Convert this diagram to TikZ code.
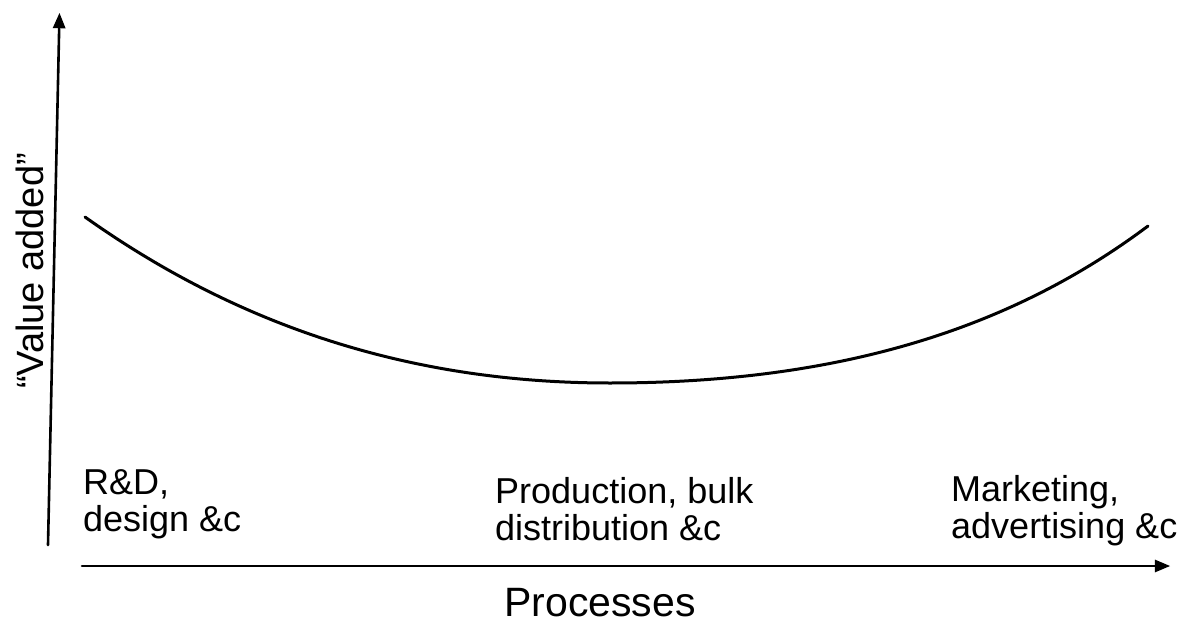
\documentclass[tikz,border=0pt]{standalone}
\usepackage{fontspec}
\setmainfont{Liberation Sans}
\usepackage{pgf,tikz}
\usetikzlibrary{arrows}

\begin{document}
\begin{tikzpicture}[line cap=round,line join=round,>=triangle 45,x=1pt,y=-1pt,
  axis/.style={line width=2.6pt},
  lab/.style={align=left,anchor=base west,inner sep=0pt,font=\fontsize{36}{36.5}\selectfont}]
\useasboundingbox (0,0) rectangle (1184,621);
\coordinate (yfoot) at (48,545);
\coordinate (ytip) at (59.5,13);
\coordinate (xfoot) at (82,566);
\coordinate (xtip) at (1170,566);
\coordinate (left) at (85,217);
\coordinate (low) at (610,383);
\coordinate (right) at (1148,226);
\draw [axis,->] (yfoot) -- (ytip);
\draw [axis,->] (xfoot) -- (xtip);
\draw [line width=3pt] (left) .. controls (230,320) and (400,383) .. (low)
  .. controls (850,383) and (1018,323.5) .. (right);
\node [lab] (rd) at (83,531) {R\&D,\\design \&c};
\node [lab] (prod) at (495,540) {Production, bulk\\distribution \&c};
\node [lab] (mkt) at (951,538) {Marketing,\\advertising \&c};
\node [anchor=base,inner sep=0pt,font=\fontsize{41}{41}\selectfont] (xname) at (600,616) {Processes};
\node [anchor=base,inner sep=0pt,rotate=90,font=\fontsize{38}{38}\selectfont] (yname) at (43,271) {“Value added”};
\end{tikzpicture}
\end{document}
